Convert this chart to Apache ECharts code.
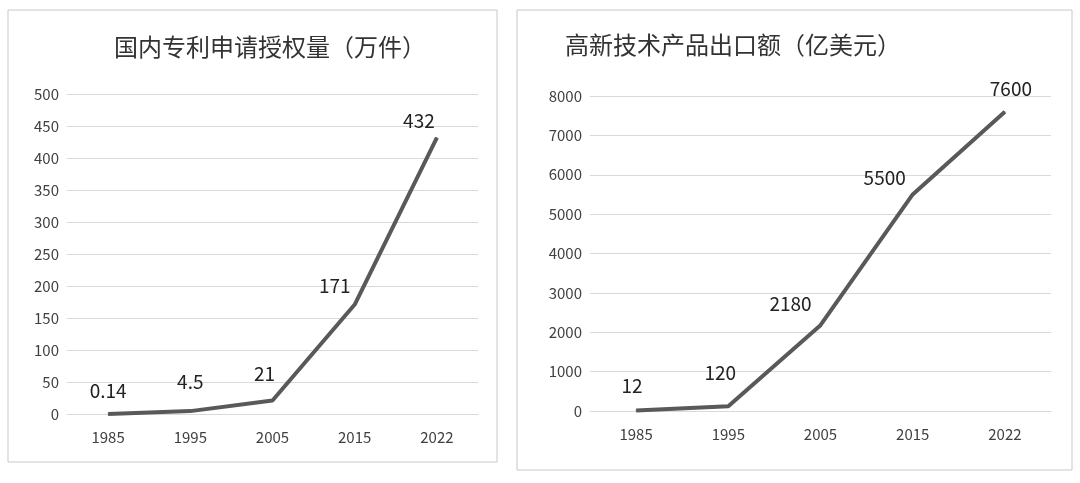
<!DOCTYPE html><html><head><meta charset="utf-8">
<script src="https://cdn.jsdelivr.net/npm/echarts@6/dist/echarts.min.js"></script>
<style>html,body{margin:0;background:#fff}#c{width:1080px;height:483px}</style></head><body><div id="c"></div>
<script>
const years=['1985','1995','2005','2015','2022'];
const patents=[0.14,4.5,21,171,432];
const exportsV=[12,120,2180,5500,7600];
const patentLabelOffsets=[[0,-8],[0,-14],[-8,-12],[-20,-4],[-18,-2]];
const exportLabelOffsets=[[-4,-10],[-8,-18],[-30,-6],[-28,-2],[6,-8]];
const ff='"Noto Sans CJK SC", "Noto Sans", sans-serif';
const chart=echarts.init(document.getElementById('c'));
function mk(vals,offs){return vals.map((v,i)=>({value:v,label:{offset:offs[i]}}));}
const axisLbl={color:'#404040',fontSize:15,fontFamily:ff,formatter:v=>String(v)};
chart.setOption({
 animation:false,
 graphic:[
  {type:'rect',shape:{x:8,y:10,width:489,height:452},style:{fill:'none',stroke:'#c8c8c8',lineWidth:1}},
  {type:'rect',shape:{x:517,y:10,width:555,height:460},style:{fill:'none',stroke:'#c8c8c8',lineWidth:1}}
 ],
 title:[
  {text:'国内专利申请授权量（万件）',left:265,top:30,textAlign:'center',textStyle:{fontFamily:ff,fontSize:24,fontWeight:'normal',color:'#333'}},
  {text:'高新技术产品出口额（亿美元）',left:560,top:28,textStyle:{fontFamily:ff,fontSize:24,fontWeight:'normal',color:'#333'}}
 ],
 grid:[
  {left:67,width:411,top:94,height:320},
  {left:590,width:461,top:96,height:315}
 ],
 xAxis:[0,1].map(i=>({type:'category',gridIndex:i,data:years,axisTick:{show:false},axisLine:{lineStyle:{color:'#d9d9d9'}},axisLabel:Object.assign({margin:16},axisLbl)})),
 yAxis:[
  {type:'value',gridIndex:0,min:0,max:500,interval:50,axisLabel:axisLbl,splitLine:{lineStyle:{color:'#d9d9d9'}}},
  {type:'value',gridIndex:1,min:0,max:8000,interval:1000,axisLabel:axisLbl,splitLine:{lineStyle:{color:'#d9d9d9'}}}
 ],
 series:[
  {type:'line',xAxisIndex:0,yAxisIndex:0,data:mk(patents,patentLabelOffsets),symbol:'circle',symbolSize:1,showSymbol:true,itemStyle:{color:'#595959'},lineStyle:{color:'#595959',width:4},
   label:{show:true,position:'top',fontSize:19,color:'#222',fontFamily:ff}},
  {type:'line',xAxisIndex:1,yAxisIndex:1,data:mk(exportsV,exportLabelOffsets),symbol:'circle',symbolSize:1,showSymbol:true,itemStyle:{color:'#595959'},lineStyle:{color:'#595959',width:4},
   label:{show:true,position:'top',fontSize:19,color:'#222',fontFamily:ff}}
 ]
});
</script></body></html>
